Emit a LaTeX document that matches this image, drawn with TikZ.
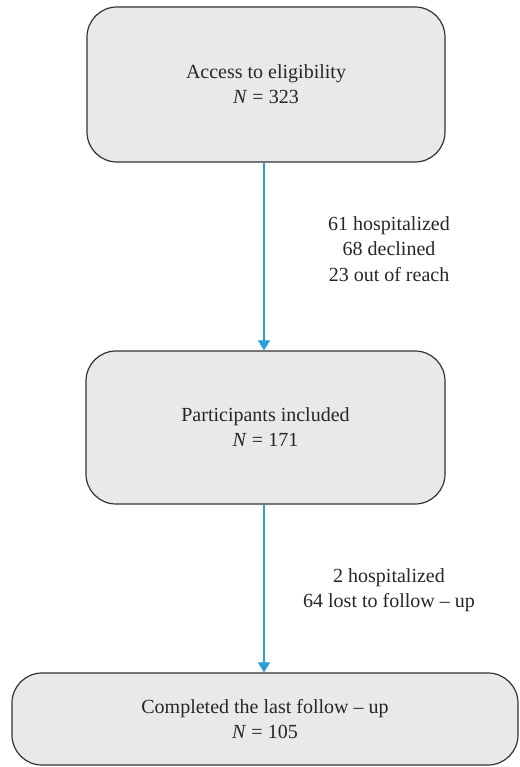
\documentclass[tikz,border=0pt]{standalone}
\usepackage{fontspec}
\setmainfont{Liberation Serif}
\usetikzlibrary{arrows.meta}
\definecolor{boxfill}{HTML}{E8E9EB}
\definecolor{boxdraw}{HTML}{333333}
\definecolor{arrowblue}{HTML}{2A9FD8}
\begin{document}
\begin{tikzpicture}[x=1pt,y=1pt,
  stagebox/.style={draw=boxdraw, line width=1.2pt, fill=boxfill, rounded corners=30pt,
    align=center, inner sep=0pt, font=\fontsize{20}{25}\selectfont, text=black!85},
  flowarrow/.style={draw=arrowblue, line width=1.1pt,
    -{Triangle[width=12pt,length=10pt]}},
  note/.style={align=center, font=\fontsize{20}{25.5}\selectfont, text=black!85}]
\useasboundingbox (0,0) rectangle (519,-767);
\node[stagebox, minimum width=358pt, minimum height=155pt] (a) at (266,-84.5)
  {Access to eligibility\\ \textit{N} = 323};
\node[stagebox, minimum width=359pt, minimum height=153pt] (b) at (265.5,-427.5)
  {Participants included\\ \textit{N} = 171};
\node[stagebox, minimum width=506pt, minimum height=92pt] (c) at (265,-719)
  {Completed the last follow -- up\\ \textit{N} = 105};
\draw[flowarrow] (a.south -| 264,0) -- (b.north -| 264,0);
\draw[flowarrow] (b.south -| 264,0) -- (c.north -| 264,0);
\node[note] (n1) at (389,-249) {61 hospitalized\\68 declined\\23 out of reach};
\node[note] (n2) at (389,-590) {2 hospitalized\\64 lost to follow -- up};
\end{tikzpicture}
\end{document}
